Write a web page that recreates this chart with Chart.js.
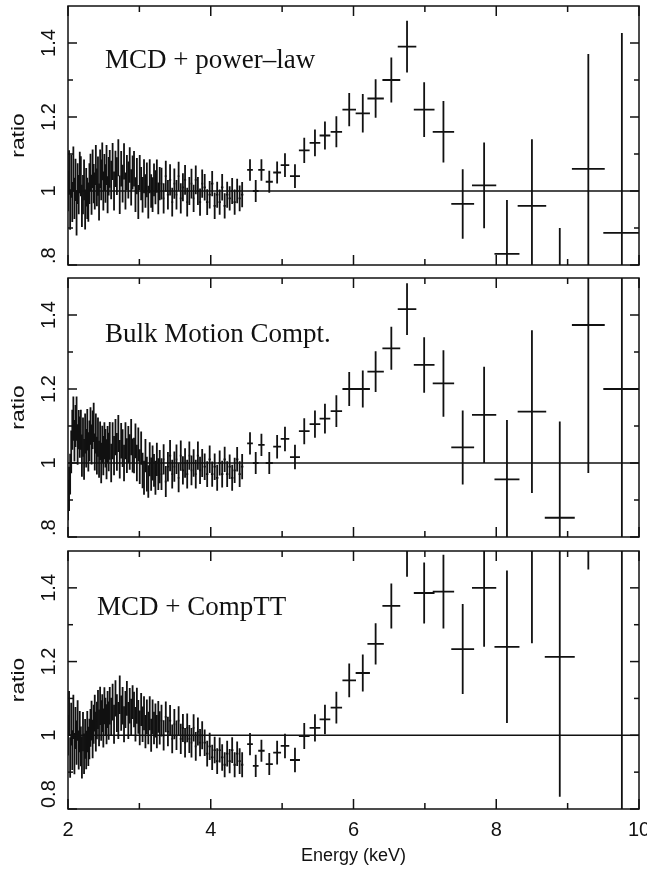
<!DOCTYPE html>
<html>
<head>
<meta charset="utf-8">
<script src="https://cdn.jsdelivr.net/npm/chart.js@4"></script>
<style>
  body { margin: 0; background: #fff; }
  canvas { position: absolute; left: 0; }
</style>
</head>
<body>
<canvas id="p1" width="647" height="272" style="top:0"></canvas>
<canvas id="p2" width="647" height="273" style="top:272px"></canvas>
<canvas id="p3" width="647" height="326" style="top:545px"></canvas>
<script>
// narrow bins below ~4.5 keV (energy, half width, 1-sigma error shared by all three fits)
const energyDense = [2.000,2.015,2.030,2.045,2.060,2.075,2.090,2.105,2.120,2.135,
  2.150,2.165,2.180,2.195,2.210,2.225,2.240,2.255,2.270,2.285,
  2.300,2.315,2.330,2.345,2.360,2.375,2.390,2.405,2.420,2.435,
  2.450,2.465,2.480,2.495,2.510,2.525,2.540,2.555,2.570,2.585,
  2.605,2.625,2.645,2.665,2.685,2.705,2.725,2.745,2.765,2.785,
  2.805,2.825,2.845,2.865,2.885,2.905,2.925,2.945,2.965,2.985,
  3.005,3.025,3.045,3.065,3.085,3.105,3.125,3.145,3.165,3.185,
  3.205,3.225,3.245,3.265,3.285,
  3.31,3.34,3.37,3.40,3.43,3.46,3.49,3.52,3.55,3.58,3.61,3.64,3.67,3.70,3.73,3.76,3.79,3.82,3.85,3.88,
  3.915,3.95,3.985,4.02,4.055,4.09,4.125,4.16,4.195,4.23,4.265,4.30,4.335,4.37,4.405,4.44];
const halfDense = [0.0075,0.0075,0.0075,0.0075,0.0075,0.0075,0.0075,0.0075,0.0075,0.0075,
  0.0075,0.0075,0.0075,0.0075,0.0075,0.0075,0.0075,0.0075,0.0075,0.0075,
  0.0075,0.0075,0.0075,0.0075,0.0075,0.0075,0.0075,0.0075,0.0075,0.0075,
  0.0075,0.0075,0.0075,0.0075,0.0075,0.0075,0.0075,0.0075,0.0075,0.0075,
  0.01,0.01,0.01,0.01,0.01,0.01,0.01,0.01,0.01,0.01,
  0.01,0.01,0.01,0.01,0.01,0.01,0.01,0.01,0.01,0.01,
  0.01,0.01,0.01,0.01,0.01,0.01,0.01,0.01,0.01,0.01,
  0.01,0.01,0.01,0.01,0.01,
  0.015,0.015,0.015,0.015,0.015,0.015,0.015,0.015,0.015,0.015,0.015,0.015,0.015,0.015,0.015,0.015,0.015,0.015,0.015,0.015,
  0.0175,0.0175,0.0175,0.0175,0.0175,0.0175,0.0175,0.0175,0.0175,0.0175,0.0175,0.0175,0.0175,0.0175,0.0175,0.0175];
const errDense = [0.055,0.06,0.055,0.058,0.054,0.06,0.056,0.057,0.06,0.055,
  0.053,0.056,0.054,0.057,0.053,0.055,0.054,0.052,0.056,0.053,
  0.055,0.051,0.054,0.052,0.053,0.05,0.054,0.051,0.053,0.05,
  0.052,0.055,0.051,0.053,0.05,0.052,0.054,0.05,0.052,0.051,
  0.052,0.05,0.053,0.049,0.051,0.05,0.052,0.048,0.051,0.049,
  0.05,0.047,0.05,0.048,0.049,0.046,0.048,0.047,0.049,0.046,
  0.047,0.045,0.048,0.046,0.045,0.047,0.044,0.046,0.045,0.047,
  0.044,0.046,0.045,0.043,0.045,
  0.043,0.041,0.042,0.04,0.042,0.039,0.041,0.04,0.039,0.041,0.038,0.04,0.039,0.038,0.04,0.037,0.039,0.038,0.037,0.038,
  0.036,0.035,0.037,0.034,0.036,0.035,0.034,0.036,0.034,0.035,0.033,0.035,0.034,0.033,0.035,0.034];

// wide bins above 4.5 keV
const energyWide = [4.55,4.63,4.71,4.82,4.93,5.04,5.18,5.31,5.46,5.60,5.76,5.94,6.13,6.31,6.53,6.75,6.99,7.26,7.53,7.83,8.15,8.50,8.89,9.29,9.76];
const halfWide = [0.04,0.04,0.045,0.05,0.055,0.06,0.07,0.075,0.075,0.075,0.08,0.095,0.1,0.115,0.125,0.13,0.145,0.15,0.16,0.17,0.175,0.2,0.21,0.23,0.26];

// MCD + power-law
const ratioDense1 = [1.00,1.05,0.95,1.04,0.97,1.06,0.98,1.03,0.94,1.02,0.99,1.05,
  1.04,0.96,0.99,1.03,0.95,1.01,0.98,0.97,1.02,
  1.05,0.99,1.06,1.02,1.00,1.07,1.01,1.04,0.97,1.06,1.03,1.08,1.00,1.05,1.02,1.07,0.99,1.04,1.06,
  1.03,1.08,1.00,1.06,1.04,1.09,0.99,1.06,1.02,1.08,1.00,1.05,1.03,1.07,1.01,1.05,
  1.06,0.99,1.04,0.97,1.05,1.02,0.99,1.04,1.00,1.03,0.97,1.04,1.00,0.99,1.03,1.01,1.04,0.98,1.02,
  1.02,0.98,1.04,0.99,1.03,0.97,1.02,0.99,1.04,0.98,1.01,1.03,0.97,1.00,1.02,0.98,1.03,1.00,0.97,1.02,
  1.01,0.97,0.99,1.02,0.96,0.99,0.97,1.01,0.96,0.99,0.98,1.00,0.97,1.00,0.98,0.99];
const ratioWide1 = [1.057,1.0,1.057,1.025,1.05,1.07,1.04,1.11,1.13,1.15,1.16,1.22,1.21,1.25,1.30,1.39,1.22,1.16,0.965,1.015,0.83,0.96,0.72,1.06,0.887];
const errWide1 = [0.029,0.03,0.029,0.03,0.03,0.032,0.032,0.034,0.036,0.038,0.042,0.045,0.052,0.052,0.061,0.07,0.074,0.083,0.094,0.116,0.146,0.18,0.18,0.31,0.54];

// Bulk Motion Compt.
const ratioDense2 = [0.90,0.93,0.97,1.03,1.09,1.12,1.06,1.10,1.12,1.05,1.09,1.07,
  1.09,1.02,1.07,1.01,1.08,1.04,1.09,1.03,1.06,
  1.10,1.05,1.09,1.11,1.03,1.08,1.02,1.07,1.01,1.06,1.00,1.05,1.02,1.06,1.04,1.01,1.05,1.03,1.06,
  1.00,1.06,1.02,1.07,1.03,1.08,1.01,1.06,1.04,1.00,1.06,1.02,1.05,1.03,1.07,1.02,
  1.02,1.06,1.00,1.05,0.99,1.04,0.98,0.96,1.02,0.97,0.95,1.01,0.97,1.00,0.98,0.96,1.01,0.97,0.99,
  0.97,1.01,0.95,0.99,1.02,0.97,0.99,1.01,0.96,1.02,0.98,1.00,0.97,1.02,0.98,1.00,0.97,1.02,0.98,1.00,
  0.99,0.97,1.01,0.97,0.99,0.96,1.00,0.97,1.01,0.97,0.99,0.96,0.98,1.01,0.97,0.99];
const ratioWide2 = [1.053,1.0,1.049,1.0,1.044,1.065,1.016,1.086,1.105,1.12,1.14,1.2,1.2,1.247,1.31,1.416,1.265,1.215,1.042,1.13,0.956,1.139,0.852,1.373,1.2];
const errWide2 = [0.03,0.03,0.03,0.03,0.032,0.033,0.033,0.035,0.037,0.04,0.043,0.046,0.05,0.055,0.058,0.07,0.075,0.09,0.1,0.13,0.16,0.22,0.26,0.4,0.7];

// MCD + CompTT
const ratioDense3 = [1.00,1.06,0.94,1.03,0.96,1.05,0.95,1.02,0.98,1.04,0.96,1.01,
  0.97,0.94,1.01,0.95,0.99,0.96,1.01,0.97,0.99,
  1.02,1.04,0.99,1.03,1.06,1.01,1.04,1.07,1.02,1.08,1.04,1.06,1.02,1.08,1.05,1.03,1.07,1.04,1.08,
  1.05,1.09,1.03,1.10,1.06,1.04,1.11,1.06,1.08,1.03,1.07,1.10,1.04,1.08,1.05,1.09,
  1.07,1.03,1.08,1.05,1.02,1.07,1.03,1.06,1.01,1.05,1.02,1.06,1.00,1.05,1.02,1.04,1.01,1.05,1.02,
  1.04,1.00,1.05,1.01,1.04,0.99,1.03,1.00,1.04,0.99,1.02,0.98,1.02,0.99,0.98,1.02,0.97,1.01,0.98,1.00,
  0.98,0.95,0.97,0.94,0.96,0.93,0.96,0.94,0.92,0.95,0.93,0.96,0.92,0.95,0.93,0.92];
const ratioWide3 = [0.976,0.917,0.958,0.922,0.953,0.971,0.933,0.998,1.02,1.043,1.075,1.149,1.169,1.248,1.351,1.58,1.386,1.39,1.234,1.40,1.24,1.55,1.213,1.75,1.6];
const errWide3 = [0.03,0.03,0.03,0.03,0.032,0.033,0.033,0.035,0.037,0.04,0.043,0.046,0.05,0.056,0.061,0.15,0.083,0.1,0.122,0.16,0.207,0.3,0.38,0.3,0.9];

// axis ticks
const xTickValues = [2, 3, 4, 5, 6, 7, 8, 9, 10];
const xTickLabels = ['2', '', '4', '', '6', '', '8', '', '10'];
const yTickValues = [0.8, 0.9, 1.0, 1.1, 1.2, 1.3, 1.4];
const yTickLabels = ['.8', '', '1', '', '1.2', '', '1.4'];
const yTickLabelsBottom = ['0.8', '', '1', '', '1.2', '', '1.4'];

const ink = '#111';
const sans = '"Liberation Sans", Arial, sans-serif';

function buildPoints(ratioDense, ratioWide, errWide) {
    const pts = [];
    energyDense.forEach((e, i) => pts.push({ x: e, y: ratioDense[i], dx: halfDense[i], dy: errDense[i] }));
    energyWide.forEach((e, i) => pts.push({ x: e, y: ratioWide[i], dx: halfWide[i], dy: errWide[i] }));
    return pts;
}

// draws the crosses (x bin width and y error) through the scales
const errorBars = {
    id: 'errorBars',
    afterDatasetsDraw(chart) {
        const { ctx, chartArea: a, scales: { x, y } } = chart;
        ctx.save();
        ctx.beginPath();
        ctx.rect(a.left, a.top, a.right - a.left, a.bottom - a.top);
        ctx.clip();
        ctx.strokeStyle = ink;
        ctx.lineWidth = 1.8;
        chart.data.datasets.forEach((ds) => {
            if (!ds.errorBars) return;
            ds.data.forEach((p) => {
                const px = x.getPixelForValue(p.x);
                const py = y.getPixelForValue(p.y);
                ctx.beginPath();
                ctx.moveTo(x.getPixelForValue(p.x - p.dx), py);
                ctx.lineTo(x.getPixelForValue(p.x + p.dx), py);
                ctx.moveTo(px, y.getPixelForValue(p.y - p.dy));
                ctx.lineTo(px, y.getPixelForValue(p.y + p.dy));
                ctx.stroke();
            });
        });
        ctx.restore();
    },
};

// frame, inward ticks, rotated y labels, panel title
const decor = {
    id: 'decor',
    afterDraw(chart, args, opts) {
        const { ctx, chartArea: a, scales: { x, y } } = chart;
        const seg = (x0, y0, x1, y1) => { ctx.beginPath(); ctx.moveTo(x0, y0); ctx.lineTo(x1, y1); ctx.stroke(); };
        ctx.save();
        ctx.strokeStyle = ink;
        ctx.fillStyle = ink;
        ctx.lineWidth = 1.5;
        ctx.strokeRect(a.left, a.top, a.right - a.left, a.bottom - a.top);

        xTickValues.forEach((v, i) => {
            const px = x.getPixelForValue(v);
            const len = xTickLabels[i] ? 10 : 6;
            seg(px, a.bottom, px, a.bottom - len);
            seg(px, a.top, px, a.top + len);
        });
        yTickValues.forEach((v, i) => {
            const py = y.getPixelForValue(v);
            const len = yTickLabels[i] ? 9 : 5;
            seg(a.left, py, a.left + len, py);
            seg(a.right, py, a.right - len, py);
        });

        // y tick labels, rotated
        ctx.font = '20px ' + sans;
        ctx.textBaseline = 'alphabetic';
        opts.yLabels.forEach((lab, i) => {
            if (!lab) return;
            const py = y.getPixelForValue(yTickValues[i]);
            ctx.save();
            ctx.translate(a.left - 13, i === 0 ? a.bottom - 1 : py);
            ctx.rotate(-Math.PI / 2);
            ctx.textAlign = i === 0 ? 'left' : 'center';
            ctx.fillText(lab, 0, 0);
            ctx.restore();
        });

        // y axis title
        ctx.save();
        ctx.translate(24, (a.top + a.bottom) / 2);
        ctx.rotate(-Math.PI / 2);
        ctx.scale(1.2, 1);
        ctx.textAlign = 'center';
        ctx.font = '19px ' + sans;
        ctx.fillText('ratio', 0, 0);
        ctx.restore();

        if (opts.showX) {
            ctx.font = '20px ' + sans;
            ctx.textAlign = 'center';
            ctx.textBaseline = 'middle';
            xTickValues.forEach((v, i) => {
                if (xTickLabels[i]) ctx.fillText(xTickLabels[i], x.getPixelForValue(v), a.bottom + 21);
            });
            ctx.font = '18px ' + sans;
            ctx.fillText('Energy (keV)', (a.left + a.right) / 2, a.bottom + 47);
        }

        ctx.font = '27px "Liberation Serif", "Times New Roman", serif';
        ctx.textAlign = 'left';
        ctx.textBaseline = 'alphabetic';
        ctx.fillText(opts.title, opts.titleX, a.top + opts.titleDy);
        ctx.restore();
    },
};

function makePanel(id, ratioDense, ratioWide, errWide, opts, padding) {
    return new Chart(document.getElementById(id), {
        type: 'scatter',
        data: {
            datasets: [
                { data: buildPoints(ratioDense, ratioWide, errWide), pointRadius: 0, showLine: false, errorBars: true },
                { type: 'line', data: [{ x: 2, y: 1 }, { x: 10, y: 1 }], borderColor: ink, borderWidth: 1.5, pointRadius: 0 },
            ],
        },
        options: {
            responsive: false,
            animation: false,
            layout: { padding: padding },
            plugins: { legend: { display: false }, tooltip: { enabled: false }, decor: opts },
            scales: {
                x: { type: 'linear', min: 2, max: 10, display: false },
                y: { type: 'linear', min: 0.8, max: 1.5, display: false },
            },
        },
        plugins: [errorBars, decor],
    });
}

makePanel('p1', ratioDense1, ratioWide1, errWide1,
    { title: 'MCD + power\u2013law', titleX: 105, titleDy: 62, yLabels: yTickLabels, showX: false },
    { left: 68, right: 8, top: 6, bottom: 7 });
makePanel('p2', ratioDense2, ratioWide2, errWide2,
    { title: 'Bulk Motion Compt.', titleX: 105, titleDy: 64, yLabels: yTickLabels, showX: false },
    { left: 68, right: 8, top: 6, bottom: 8 });
makePanel('p3', ratioDense3, ratioWide3, errWide3,
    { title: 'MCD + CompTT', titleX: 97, titleDy: 64, yLabels: yTickLabelsBottom, showX: true },
    { left: 68, right: 8, top: 6, bottom: 62 });
</script>
</body>
</html>
